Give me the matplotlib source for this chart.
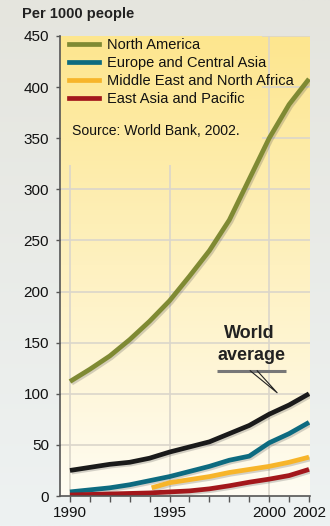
import numpy as np
import matplotlib
matplotlib.use("Agg")
import matplotlib.pyplot as plt
import matplotlib.patheffects as pe
from matplotlib.colors import to_rgb
from matplotlib.lines import Line2D

plt.rcParams['font.family'] = ['Liberation Sans', 'DejaVu Sans']

# ---- data ----
years = [1990, 1991, 1992, 1993, 1994, 1995, 1996, 1997, 1998, 1999, 2000, 2001, 2002]
north_america = [112, 124, 137, 153, 171, 191, 215, 240, 270, 310, 350, 383, 408]
europe_central_asia = [4, 6, 8, 11, 15, 19, 24, 29, 35, 39, 52, 61, 72]
mena_years = [1994.1, 1995, 1996, 1997, 1998, 1999, 2000, 2001, 2002]
mena = [8, 13, 16, 19, 23, 26, 29, 33, 38]
east_asia_pacific = [1, 1.5, 2, 2.5, 3, 4, 5, 7, 10, 13.5, 16.5, 20, 26]
world = [25, 28, 31, 33, 37, 43, 48, 53, 61, 69, 80, 89, 100]

series_names = ["North America", "Europe and Central Asia",
                "Middle East and North Africa", "East Asia and Pacific"]
series_colors = ["#7f8a33", "#0d6b80", "#f7b52a", "#a3171b"]
world_color = "#1a1a1a"

xtick_major = [1990, 1995, 2000, 2002]
ytick_vals = [0, 50, 100, 150, 200, 250, 300, 350, 400, 450]

W, H = 330, 526
fig = plt.figure(figsize=(W / 100, H / 100), dpi=100)

# figure background gradient
bg = fig.add_axes([0, 0, 1, 1], zorder=-10)
top_c, bot_c = np.array(to_rgb("#e5e5de")), np.array(to_rgb("#eef2f2"))
g = np.linspace(0, 1, 256)[:, None, None]
bg.imshow(top_c * (1 - g) + bot_c * g, aspect='auto', extent=[0, 1, 0, 1])
bg.axis('off')

L, R, B, T = 60, 310, 496, 36
ax = fig.add_axes([L / W, (H - B) / H, (R - L) / W, (B - T) / H])
ax.set_facecolor('none')
ax.set_xlim(1989.5, 2002.05)
ax.set_ylim(0, 450)

# plot area gradient
ptop, pbot = np.array(to_rgb("#fde68e")), np.array(to_rgb("#fffcf2"))
def grad(f0, f1, n=256):
    f = np.linspace(f1, f0, n)[:, None, None]  # top row first
    return ptop * f + pbot * (1 - f)
ax.imshow(grad(0, 1), aspect='auto', extent=[0, 1, 0, 1],
          transform=ax.transAxes, zorder=0)

# grid
for y in ytick_vals[1:]:
    ax.axhline(y, color="#dbd6cb", lw=1.2, zorder=0.5)
for x in [1990, 1995, 2000]:
    ax.axvline(x, color="#dbd6cb", lw=1.2, zorder=0.5)

# legend panel covering grid
y0f, x1f = 0.72, (262 - L) / (R - L)
ax.imshow(grad(y0f, 1.0), aspect='auto', extent=[0, x1f, y0f, 1],
          transform=ax.transAxes, zorder=0.6)

shadow = [pe.SimpleLineShadow(offset=(1.2, -1.2), alpha=0.25, shadow_color='#555'), pe.Normal()]
lw = 3.4
ax.plot(years, north_america, color=series_colors[0], lw=lw, zorder=3, path_effects=shadow, solid_capstyle='butt')
ax.plot(years, world, color=world_color, lw=lw, zorder=3, path_effects=shadow, solid_capstyle='butt')
ax.plot(years, europe_central_asia, color=series_colors[1], lw=lw, zorder=3, path_effects=shadow, solid_capstyle='butt')
ax.plot(mena_years, mena, color=series_colors[2], lw=lw, zorder=3, path_effects=shadow, solid_capstyle='butt')
ax.plot(years, east_asia_pacific, color=series_colors[3], lw=lw, zorder=3, path_effects=shadow, solid_capstyle='butt')

# spines / ticks
for s in ['top', 'right']:
    ax.spines[s].set_visible(False)
for s in ['left', 'bottom']:
    ax.spines[s].set_color('#555555')
    ax.spines[s].set_linewidth(1.2)
    ax.spines[s].set_zorder(4)
ax.set_yticks(ytick_vals)
ax.set_xticks(xtick_major)
ax.set_xticks(years, minor=True)
ax.tick_params(axis='y', length=3, width=1, color='#555555', pad=5, labelsize=11, labelcolor='#111111')
ax.tick_params(axis='x', which='both', length=4, width=1, color='#555555', pad=3, labelsize=11, labelcolor='#111111')

# legend
handles = [Line2D([0], [0], color=c, lw=lw) for c in series_colors]
leg = ax.legend(handles, series_names, loc='upper left', bbox_to_anchor=(0.0, 1.015),
                frameon=False, fontsize=10.5, handlelength=2.05, handletextpad=0.55,
                labelspacing=0.27, borderaxespad=0.3, borderpad=0.3)
leg.set_zorder(5)
for t in leg.get_texts():
    t.set_color('#111111')

ax.text((72 - L) / (R - L), (B - 131) / (B - T), "Source: World Bank, 2002.",
        transform=ax.transAxes, fontsize=10.1, va='center', ha='left', color='#111111', zorder=5)

# World average label
ax.text(1999.0, 159, "World", fontsize=13, fontweight='bold', ha='center', va='center', color='#222222', zorder=5)
ax.text(1999.1, 137, "average", fontsize=13, fontweight='bold', ha='center', va='center', color='#222222', zorder=5)
ax.plot([1997.4, 2000.85], [122.5, 122.5], color='#777777', lw=2.2, zorder=5, solid_capstyle='butt')
ax.plot([1999.05, 2000.4, 1999.4], [122.5, 101, 122.5], color='#222222', lw=0.8, zorder=5)

fig.text(22 / W, 1 - 14 / H, "Per 1000 people", fontsize=10.5, fontweight='bold',
         ha='left', va='center', color='#222222')

fig.savefig("out.png", dpi=100)
